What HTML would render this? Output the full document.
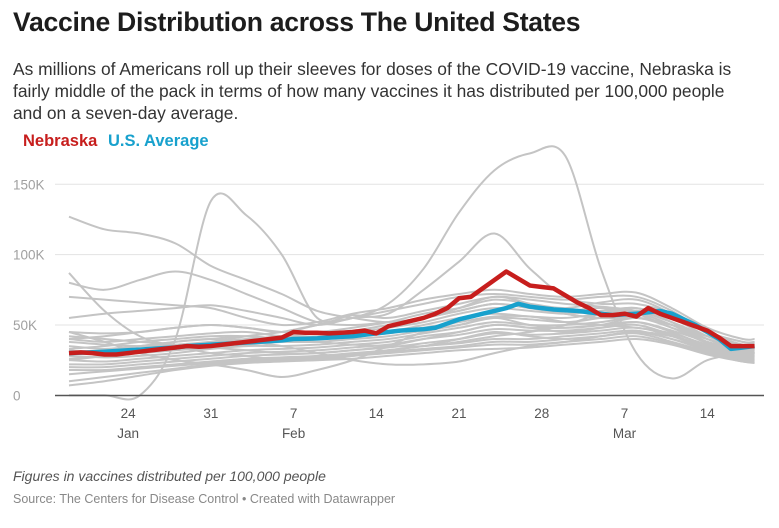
<!DOCTYPE html>
<html><head><meta charset="utf-8">
<style>
body{margin:0;width:779px;height:528px;background:#fff;font-family:"Liberation Sans",sans-serif;overflow:hidden;position:relative}
.t{position:absolute;left:13px;top:7px;font-size:26.6px;font-weight:bold;color:#1d1d1d;letter-spacing:-0.3px}
.s{position:absolute;left:13px;top:58px;width:744px;font-size:17.4px;line-height:22px;color:#333}
.lg{position:absolute;top:132px;font-size:16.5px;font-weight:bold}
.f1{position:absolute;left:13px;top:468px;font-size:14px;font-style:italic;color:#555}
.f2{position:absolute;left:13px;top:492px;font-size:12.5px;color:#888}
svg{position:absolute;left:0;top:0}
</style></head><body>
<div class="t">Vaccine Distribution across The United States</div>
<div class="s">As millions of Americans roll up their sleeves for doses of the COVID-19 vaccine, Nebraska is fairly middle of the pack in terms of how many vaccines it has distributed per 100,000 people and on a seven-day average.</div>
<div class="lg" style="left:23px;color:#c71e1d">Nebraska</div>
<div class="lg" style="left:108px;color:#18a1cd">U.S. Average</div>
<svg id="c" width="779" height="528"></svg>
<div class="f1">Figures in vaccines distributed per 100,000 people</div>
<div class="f2">Source: The Centers for Disease Control • Created with Datawrapper</div>
<script>
const yTicks=[0,50,100,150];
const yTickLabels=["0","50K","100K","150K"];
const xTickDays=[5,12,19,26,33,40,47,54];
const xTickLabels=["24","31","7","14","21","28","7","14"];
const monthLabels=[["Jan",5],["Feb",19],["Mar",47]];
const nebraska=[30,30.5,30,29,29,30,31,32,33,34,35,34.5,35,
36,37,38,39,40,41,45,44.5,44.5,44,44.5,45,46,44,49,51,53,55,58,62,69,70,76,82,88,83,78,77,
76,71,66,62,57,57,58,56,62,58,55,52,49,46,41,35,35,35];
const usAverage=[30,30.3,30.6,31,31.5,32,32.5,33,33.5,34,35,35.5,36,
36.5,37,37.5,38,38.5,39,40,40.2,40.5,41,41.5,42,43,44,45,46,46.5,47,48,51,54,56,58,60,62,65,63,62,
61,60.5,60,59,58,57,57.5,58,59,60,58,54,50,45,40,33,34,35];
const grayDays=[0,3,6,9,12,15,18,21,24,27,30,33,36,39,42,45,48,51,54,57,58];
const grayA=[0,0,0,40,138,128,100,55,57,55,60,65,70,68,65,63,60,52,42,35,34];
const grayB=[25,28,32,35,38,42,45,50,55,65,90,130,160,172,170,90,30,12,25,30,30];
const grayC=[127,118,115,108,92,82,72,60,55,52,55,60,65,62,58,55,60,55,45,35,34];
const grayD=[87,60,42,35,30,28,25,25,28,32,35,40,45,42,40,42,45,40,33,28,28];
const grayE=[80,75,82,88,82,72,62,52,50,52,55,62,70,65,58,55,55,50,40,33,32];
const grayF=[40,42,45,48,50,48,45,50,55,58,75,95,115,90,70,65,65,58,45,38,37];
const grayG=[45,38,30,25,22,18,13,18,25,35,45,50,55,50,48,50,55,50,42,35,34];
const grayH=[70,68,66,64,62,55,50,52,58,62,68,72,75,72,70,72,73,62,48,40,40];
const grayI=[55,58,60,62,64,60,55,50,55,60,65,70,72,70,68,70,70,60,45,38,38];
const grayJ=[45,44,45,48,50,48,45,45,48,52,58,62,68,65,62,66,68,58,44,36,35];
const grayK=[40,38,40,42,44,45,42,42,45,48,52,58,62,60,58,60,62,55,42,34,33];
const grayL=[35,33,35,38,40,42,40,40,42,45,50,55,58,56,55,58,60,52,40,32,32];
const grayM=[32,30,32,34,36,38,38,38,40,42,46,50,55,54,52,55,58,50,38,31,30];
const grayN=[28,27,28,30,33,35,35,36,38,40,44,48,52,50,50,52,55,48,37,30,30];
const grayO=[25,24,26,28,30,32,33,34,36,38,42,45,50,48,48,50,52,45,35,29,29];
const grayP=[22,22,24,26,28,30,31,32,34,36,40,43,47,46,46,48,50,43,34,28,28];
const grayQ=[20,20,22,24,26,28,29,30,32,34,37,40,44,43,44,46,48,42,33,27,27];
const grayR=[18,18,20,22,24,26,27,28,30,32,35,37,40,40,42,44,46,40,32,26,26];
const grayS=[15,17,19,21,23,25,26,27,29,31,33,35,38,38,40,42,44,38,31,25,25];
const grayT=[10,13,16,19,22,24,25,26,28,30,32,34,36,36,38,40,42,37,30,24,24];
const grayU=[7,10,14,18,21,23,24,25,26,28,30,32,33,34,36,38,40,36,29,24,23];
const grayV=[30,32,35,38,40,38,35,30,25,22,22,24,30,35,38,42,45,42,35,30,30];
const grayW=[38,36,35,36,38,40,42,44,46,50,55,60,65,62,60,62,58,48,40,34,34];
const grayX=[33,35,38,40,42,42,40,38,36,35,35,38,42,45,50,58,62,52,40,33,33];
const grayY=[42,40,38,36,34,32,30,30,32,35,40,45,50,48,45,48,52,46,38,32,31];
const grayZ=[26,28,30,32,34,36,38,40,42,44,48,52,56,56,52,50,48,44,36,30,30];
const grays=[grayA,grayB,grayC,grayD,grayE,grayF,grayG,grayH,grayI,grayJ,grayK,grayL,grayM,grayN,grayO,grayP,grayQ,grayR,grayS,grayT,grayU,grayV,grayW,grayX,grayY,grayZ];

const X=d=>69+d*11.82;
const Y=v=>395.3-v*1.4067;
const svg=document.getElementById('c');
const NS='http://www.w3.org/2000/svg';
function mk(tag,at){const e=document.createElementNS(NS,tag);for(const k in at)e.setAttribute(k,at[k]);svg.appendChild(e);return e;}

yTicks.forEach((v,i)=>{
  if(v>0){const g=mk('line',{x1:55,x2:764,y1:Y(v),y2:Y(v),stroke:'#e3e3e3','stroke-width':1});
  
  }
  const t=mk('text',{x:13,y:Y(v)+5,'font-size':13.5,fill:'#a0a0a0','font-family':'Liberation Sans'});
  t.textContent=yTickLabels[i];
  
  
});
xTickDays.forEach((d,i)=>{
  const t=mk('text',{x:X(d),y:418,'font-size':13.5,fill:'#555','text-anchor':'middle','font-family':'Liberation Sans'});
  t.textContent=xTickLabels[i];
  
  
});
monthLabels.forEach(m=>{
  const t=mk('text',{x:X(m[1]),y:438,'font-size':13.5,fill:'#555','text-anchor':'middle','font-family':'Liberation Sans'});
  t.textContent=m[0];
  
  
});
function smooth(pts){
  let d='M'+pts[0][0]+','+pts[0][1];
  for(let i=0;i<pts.length-1;i++){
    const p0=pts[Math.max(i-1,0)],p1=pts[i],p2=pts[i+1],p3=pts[Math.min(i+2,pts.length-1)];
    const c1=[p1[0]+(p2[0]-p0[0])/6,p1[1]+(p2[1]-p0[1])/6];
    const c2=[p2[0]-(p3[0]-p1[0])/6,p2[1]-(p3[1]-p1[1])/6];
    d+=' C'+c1[0]+','+c1[1]+' '+c2[0]+','+c2[1]+' '+p2[0]+','+p2[1];
  }
  return d;
}
grays.forEach(s=>{
  const p=mk('path',{d:smooth(s.map((v,i)=>[X(grayDays[i]),Y(v)])),fill:'none',stroke:'#c4c4c4','stroke-width':2});
  
  
});
const ax=mk('line',{x1:55,x2:764,y1:395.5,y2:395.5,stroke:'#555','stroke-width':1.5});


const us=mk('polyline',{points:usAverage.map((v,i)=>X(i)+','+Y(v)).join(' '),fill:'none',stroke:'#18a1cd','stroke-width':4.5,'stroke-linejoin':'round'});


const ne=mk('polyline',{points:nebraska.map((v,i)=>X(i)+','+Y(v)).join(' '),fill:'none',stroke:'#c71e1d','stroke-width':4.5,'stroke-linejoin':'round'});


</script>
</body></html>
